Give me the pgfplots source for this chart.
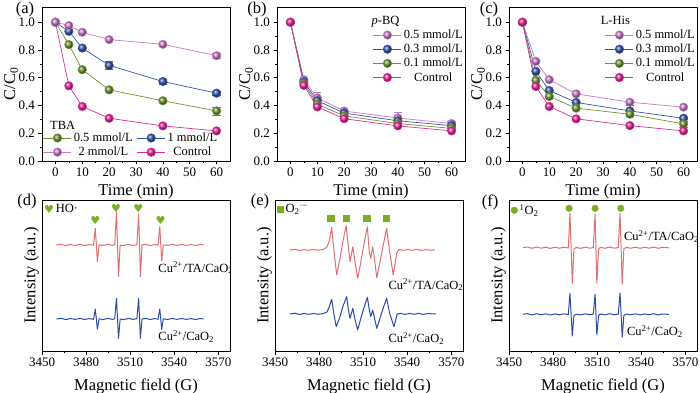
\documentclass[border=0pt]{standalone}
\usepackage{pgfplots}
\pgfplotsset{compat=1.18}
\usepackage{fontspec}
\setmainfont{Liberation Serif}
\newfontfamily\symf{DejaVu Sans}
\definecolor{cgreen}{RGB}{112,145,50}
\definecolor{cblue}{RGB}{55,85,165}
\definecolor{cpink}{RGB}{195,120,195}
\definecolor{cmag}{RGB}{225,40,150}
\definecolor{sred}{RGB}{225,110,110}
\definecolor{sblue}{RGB}{45,75,165}
\definecolor{mgreen}{RGB}{120,175,35}
\newcommand{\ticksize}{\fontsize{13bp}{15bp}\selectfont}
\newcommand{\labsize}{\fontsize{16.5bp}{18bp}\selectfont}
\newcommand{\legsize}{\fontsize{12.5bp}{14bp}\selectfont}
\newcommand{\cuta}{Cu\textsuperscript{2+}/TA/CaO\textsubscript{2}}
\newcommand{\cuc}{Cu\textsuperscript{2+}/CaO\textsubscript{2}}
\newcommand{\hrt}{\textcolor{mgreen}{\symf\fontsize{11bp}{12bp}\selectfont ♥}}
\pgfplotsset{
  base/.style={scale only axis, axis line style={line width=0.6pt}, tick align=outside, tick pos=left,
    major tick length=3.5bp, minor tick length=2bp, every tick/.style={black, line width=0.6pt},
    tick label style={font=\ticksize}, label style={font=\labsize},
    /pgf/number format/assume math mode=true},
  toppanel/.style={base, width=188bp, height=154bp, xmin=-5, xmax=65, ymin=0, ymax=1.11,
    xtick={0,10,20,30,40,50,60}, minor x tick num=1, ytick={0,0.2,0.4,0.6,0.8,1.0}, minor y tick num=1,
    yticklabel style={/pgf/number format/.cd, fixed, fixed zerofill, precision=1},
    xlabel={Time (min)}, ylabel={C/C\textsubscript{0}}, ylabel shift=-6bp,
    legend image code/.code={\draw[mark repeat=2,mark phase=2] plot coordinates {(0bp,0bp)(14bp,0bp)(28bp,0bp)};},
    legend style={draw=none, fill=none, font=\legsize, inner sep=0pt}},
  ser/.style={color=#1, line width=0.7pt, mark=ball, mark size=4.2pt, mark options={ball color=#1},
    error bars/y dir=both, error bars/y explicit, error bars/error bar style={line width=0.6pt}},
  botpanel/.style={base, width=188bp, height=151bp, xmin=3450, xmax=3578, ymin=0, ymax=151,
    xtick={3450,3480,3510,3540,3570}, minor x tick num=1, ytick=\empty,
    xticklabel style={/pgf/number format/.cd, set thousands separator={}},
    xlabel={Magnetic field (G)}, ylabel={Intensity (a.u.)}, xlabel style={yshift=-5bp}, ylabel shift=-4bp,
    legend style={draw=none, fill=none, font=\legsize, at={(rel axis cs:0.01,0.985)}, anchor=north west, inner sep=0pt}},
  spec/.style={color=#1, line width=1pt, no marks, line join=round}
}
\begin{document}
\begin{tikzpicture}
\useasboundingbox (0,0) rectangle (700bp,393bp);
% ---------------- (a)
\begin{axis}[toppanel, at={(42bp,232bp)},
  legend columns=2, legend style={at={(rel axis cs:0.005,0.01)}, anchor=south west, /tikz/every even column/.style={column sep=2bp}}]
\addplot[ser=cmag, forget plot] coordinates {(0,1.0)(5,0.542)(10,0.393)(20,0.308)(40,0.253)(60,0.217)};
\addplot[ser=cgreen] coordinates {(0,1.0)(5,0.839)(10,0.658)(20,0.513)(40,0.434)(60,0.361) +- (0,0.03)};
\addlegendentry{0.5 mmol/L}
\addplot[ser=cblue] coordinates {(0,1.0)(5,0.935)(10,0.814)(20,0.689) +- (0,0.03) (40,0.573) +- (0,0.02) (60,0.489) +- (0,0.015)};
\addlegendentry{1 mmol/L}
\addplot[ser=cpink] coordinates {(0,1.0)(5,0.976)(10,0.928)(20,0.875)(40,0.841)(60,0.759) +- (0,0.02)};
\addlegendentry{2 mmol/L}
\addlegendimage{ser=cmag}
\addlegendentry{Control}
\node[anchor=west, font=\legsize] at (rel axis cs:0.025,0.234) {TBA};
\end{axis}
% ---------------- (b)
\begin{axis}[toppanel, at={(277bp,232bp)},
  legend style={at={(rel axis cs:1.0,0.865)}, anchor=north east}]
\addplot[ser=cpink] coordinates {(0,1.0)(5,0.585)(10,0.455) +- (0,0.04) (20,0.36)(40,0.31) +- (0,0.04) (60,0.27) +- (0,0.02)};
\addlegendentry{0.5 mmol/L}
\addplot[ser=cblue] coordinates {(0,1.0)(5,0.57)(10,0.435)(20,0.345)(40,0.29)(60,0.255)};
\addlegendentry{0.3 mmol/L}
\addplot[ser=cgreen] coordinates {(0,1.0)(5,0.56)(10,0.41)(20,0.325)(40,0.27)(60,0.235)};
\addlegendentry{0.1 mmol/L}
\addplot[ser=cmag] coordinates {(0,1.0)(5,0.545)(10,0.39)(20,0.305)(40,0.253)(60,0.217)};
\addlegendentry{Control}
\node[font=\legsize] at (rel axis cs:0.577,0.903) {\textit{p}-BQ};
\end{axis}
% ---------------- (c)
\begin{axis}[toppanel, at={(509bp,232bp)},
  legend style={at={(rel axis cs:1.0,0.865)}, anchor=north east}]
\addplot[ser=cpink] coordinates {(0,1.0)(5,0.718)(10,0.586)(20,0.484)(40,0.424)(60,0.388)};
\addlegendentry{0.5 mmol/L}
\addplot[ser=cblue] coordinates {(0,1.0)(5,0.646)(10,0.508)(20,0.422)(40,0.361) +- (0,0.04) (60,0.308)};
\addlegendentry{0.3 mmol/L}
\addplot[ser=cgreen] coordinates {(0,1.0)(5,0.581)(10,0.465)(20,0.381)(40,0.337)(60,0.267) +- (0,0.02)};
\addlegendentry{0.1 mmol/L}
\addplot[ser=cmag] coordinates {(0,1.0)(5,0.537)(10,0.393)(20,0.304)(40,0.255)(60,0.217)};
\addlegendentry{Control}
\node[font=\legsize] at (rel axis cs:0.566,0.916) {L-His};
\end{axis}
% ---------------- (d)
\begin{axis}[botpanel, at={(42bp,42bp)}]
\addplot[only marks, mark=text, text mark={\hrt}]
  coordinates {(3486.3,131)(3500.4,143)(3515.6,143)(3530.8,131)};
\addlegendentry{HO·}
\addplot[spec=sred, forget plot] coordinates {(3459.8,106)(3463,106.7)(3466.2,105.4)(3469.4,106.5)(3472.6,105.6)(3475.8,106.6)(3479,105.5)(3482.2,106.4)(3485.1,105.7)(3486.3,122.7)(3487.7,89.3)(3488.9,106.2)(3491.7,105.5)(3494.9,106.6)(3498.1,105.6)(3499.5,106.3)(3500.7,138.7)(3502.1,74.3)(3503.2,106)(3505.6,105.4)(3508.8,106.6)(3512,105.6)(3514.6,106.3)(3515.8,137)(3517,74.3)(3518.1,106)(3520.5,106.6)(3523.7,105.5)(3526.9,106.5)(3529,105.7)(3530.2,124.3)(3531.5,90)(3532.6,106.2)(3535.4,105.5)(3538.6,106.6)(3541.8,105.6)(3545,106.5)(3548.2,105.6)(3551.4,106.4)(3554.6,105.5)(3557.8,106.5)(3560,106)};
\addplot[spec=sblue, forget plot] coordinates {(3459.8,32)(3463,32.7)(3466.2,31.4)(3469.4,32.5)(3472.6,31.6)(3475.8,32.6)(3479,31.5)(3482.2,32.4)(3485.1,31.7)(3486.3,42)(3487.7,21.7)(3488.9,32.2)(3491.7,31.5)(3494.9,32.6)(3498.1,31.6)(3499.5,32.3)(3500.7,52.7)(3502.1,12.7)(3503.2,32)(3505.6,31.4)(3508.8,32.6)(3512,31.6)(3514.6,32.3)(3515.8,52.7)(3517,12.7)(3518.1,32)(3520.5,32.6)(3523.7,31.5)(3526.9,32.5)(3529,31.7)(3530.2,42)(3531.5,21.7)(3532.6,32.2)(3535.4,31.5)(3538.6,32.6)(3541.8,31.6)(3545,32.5)(3548.2,31.6)(3551.4,32.4)(3554.6,31.5)(3557.8,32.5)(3560,32)};
\node[anchor=west, font=\legsize] at (axis cs:3526.9,83) {\cuta};
\node[anchor=west, font=\legsize] at (axis cs:3526.9,14.3) {\cuc};
\end{axis}
% ---------------- (e)
\begin{axis}[botpanel, at={(275bp,42bp)}]
\addplot[only marks, mark=square*, mark size=3.3pt, color=mgreen]
  coordinates {(3488.1,132.7)(3498.4,132.7)(3512.4,132.7)(3525.6,132.7)};
\addlegendentry{O\textsubscript{2}\textsuperscript{·−}}
\addplot[spec=sred, forget plot] coordinates {(3460.2,101)(3463.5,101.6)(3466.6,100.5)(3469.8,101.4)(3472.9,100.7)(3476,101.5)(3479.1,100.8)(3482.7,101.5)(3485.4,104)(3486.9,110)(3488.6,123.3)(3490.2,100)(3492,76)(3494.2,92)(3496.3,110)(3498.4,125.3)(3499.9,105)(3501.1,89.3)(3503,104.3)(3504.4,90)(3506.3,72.7)(3508.3,88)(3510.7,108)(3512.9,124.3)(3514.1,100)(3515.2,92.7)(3516.5,104.3)(3517.9,90)(3519.3,73.3)(3521.3,88)(3523.7,106)(3526,122.7)(3528,100)(3530.5,76)(3532.9,98)(3534.3,101.5)(3537.4,100.6)(3540.5,101.4)(3543.6,100.7)(3546.7,101.5)(3549.9,100.6)(3553,101.3)(3556.1,100.8)(3558.9,101.2)};
\addplot[spec=sblue, forget plot] coordinates {(3460.2,37)(3463.5,37.8)(3466.6,36.5)(3469.8,37.6)(3472.9,36.6)(3476,37.5)(3479.1,36.7)(3482.7,37.4)(3485.4,39)(3486.9,44)(3488.6,51.7)(3490.2,36)(3491.7,24.3)(3494.2,34)(3496.3,45)(3498.8,54.3)(3499.9,42)(3501.1,32.7)(3503,42.7)(3504.4,32)(3506.3,21)(3508.3,32)(3510.7,44)(3512.9,53.7)(3514.1,42)(3515.2,34.3)(3516.5,41)(3517.9,32)(3519.3,22.7)(3521.3,32)(3523.7,43)(3526,52.7)(3528,38)(3531,24.3)(3533.2,37)(3535.3,37.6)(3538.4,36.6)(3541.5,37.5)(3544.7,36.7)(3547.8,37.6)(3550.9,36.6)(3554,37.4)(3559.6,37)};
\node[anchor=west, font=\legsize] at (axis cs:3524.9,66) {\cuta};
\node[anchor=west, font=\legsize] at (axis cs:3524.9,12.7) {\cuc};
\end{axis}
% ---------------- (f)
\begin{axis}[botpanel, at={(509bp,42bp)}]
\addplot[only marks, mark=*, mark size=3.3pt, color=mgreen]
  coordinates {(3490.9,142.7)(3508.6,142.7)(3526.1,142.7)};
\addlegendentry{\textsuperscript{1}O\textsubscript{2}}
\addplot[spec=sred, forget plot] coordinates {(3459.5,103.3)(3462.6,104)(3465.7,102.7)(3468.8,103.9)(3471.9,102.8)(3475,103.8)(3478.1,102.6)(3481.3,103.7)(3484.4,102.8)(3487.5,103.8)(3490.4,103)(3491.5,137.7)(3493.1,67.7)(3494.2,102)(3495.8,103.5)(3498.8,102.7)(3502,103.8)(3505.1,102.8)(3507.4,103.5)(3508.6,137)(3509.8,67.7)(3511,102.2)(3512.3,103.6)(3515.4,102.7)(3518.5,103.9)(3521.6,102.8)(3524.4,103.5)(3525.6,137.7)(3527.1,67)(3528.2,102.3)(3529.9,103.6)(3533,102.8)(3536.1,103.8)(3539.2,102.7)(3542.3,103.7)(3545.4,102.8)(3548.5,103.9)(3551.6,102.7)(3554.7,103.6)(3558.9,103.2)};
\addplot[spec=sblue, forget plot] coordinates {(3459.5,36.7)(3462.6,37.4)(3465.7,36.1)(3468.8,37.3)(3471.9,36.2)(3475,37.2)(3478.1,36)(3481.3,37.1)(3484.4,36.2)(3487.5,37.2)(3490.4,36.4)(3491.5,57.7)(3493.1,15)(3494.2,35.5)(3495.8,36.9)(3498.8,36.1)(3502,37.2)(3505.1,36.2)(3507.4,36.9)(3508.6,57)(3509.8,16)(3511,35.6)(3512.3,37)(3515.4,36.1)(3518.5,37.3)(3521.6,36.2)(3524.4,36.9)(3525.6,58)(3527.1,14)(3528.2,35.7)(3529.9,37)(3533,36.2)(3536.1,37.2)(3539.2,36.1)(3542.3,37.1)(3545.4,36.2)(3548.5,37.3)(3551.6,36.1)(3554.7,37)(3558.9,36.6)};
\node[anchor=west, font=\legsize] at (axis cs:3526,114.3) {\cuta};
\node[anchor=west, font=\legsize] at (axis cs:3528,19.3) {\cuc};
\end{axis}
% panel labels
\node[font=\labsize] at (25bp,383bp) {(a)};
\node[font=\labsize] at (257bp,383bp) {(b)};
\node[font=\labsize] at (489bp,383bp) {(c)};
\node[font=\labsize] at (27bp,191bp) {(d)};
\node[font=\labsize] at (260bp,191bp) {(e)};
\node[font=\labsize] at (490bp,191bp) {(f)};
\end{tikzpicture}
\end{document}
